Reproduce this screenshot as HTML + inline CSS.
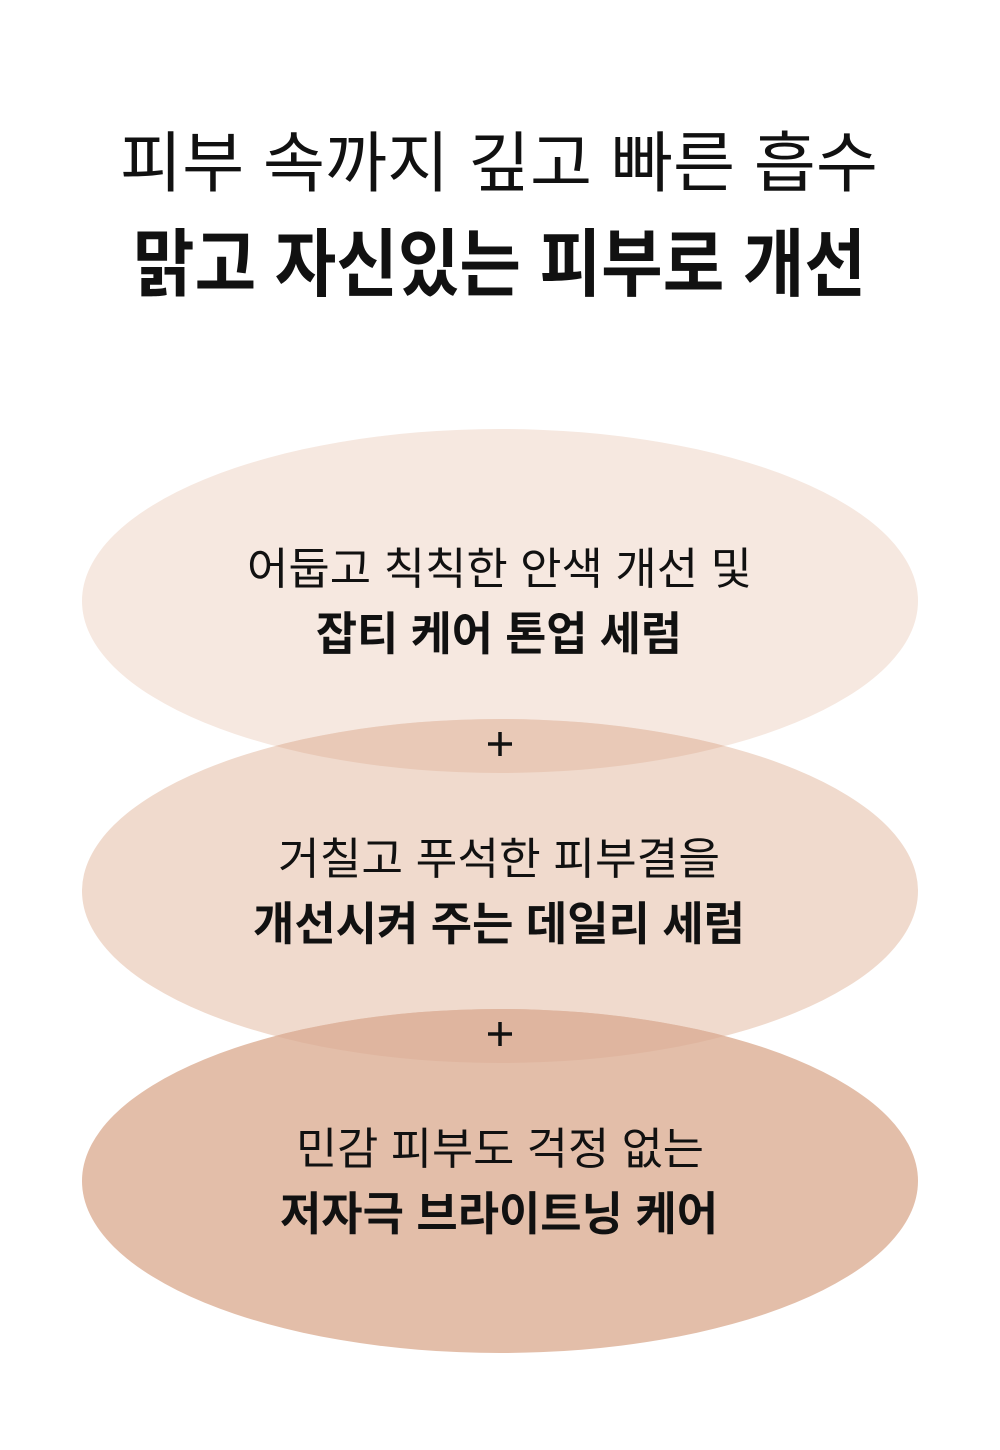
<!DOCTYPE html>
<html><head><meta charset="utf-8"><style>
html,body{margin:0;padding:0;background:#fff;}
svg{display:block;}
text{font-family:"Liberation Sans","Noto Sans CJK KR",sans-serif;fill:#111;}
.r{font-weight:400;}
.b{font-weight:700;}
</style></head><body>
<svg width="1000" height="1450" viewBox="0 0 1000 1450" xmlns="http://www.w3.org/2000/svg">
<defs>
<clipPath id="c1"><ellipse cx="500" cy="601" rx="418" ry="172"/></clipPath>
<clipPath id="c2"><ellipse cx="500" cy="891" rx="418" ry="172"/></clipPath>
</defs>
<rect width="1000" height="1450" fill="#fff"/>
<text class="r" x="120" y="186" font-size="66" textLength="758" lengthAdjust="spacingAndGlyphs">피부 속까지 깊고 빠른 흡수</text>
<text class="b" x="133" y="290" font-size="74" textLength="733" lengthAdjust="spacingAndGlyphs">맑고 자신있는 피부로 개선</text>

<ellipse cx="500" cy="601" rx="418" ry="172" fill="#f6e8e0"/>
<ellipse cx="500" cy="891" rx="418" ry="172" fill="#f0dacd"/>
<ellipse cx="500" cy="891" rx="418" ry="172" fill="#e9c9b7" clip-path="url(#c1)"/>
<ellipse cx="500" cy="1181" rx="418" ry="172" fill="#e3bea9"/>
<ellipse cx="500" cy="1181" rx="418" ry="172" fill="#dfb59f" clip-path="url(#c2)"/>

<text class="r" x="247" y="584" font-size="44" textLength="505" lengthAdjust="spacingAndGlyphs">어둡고 칙칙한 안색 개선 및</text>
<text class="b" x="316" y="650" font-size="46" textLength="366" lengthAdjust="spacingAndGlyphs">잡티 케어 톤업 세럼</text>

<path d="M488 744 H512 M500 732 V756" stroke="#111" stroke-width="3.5"/>

<text class="r" x="278" y="874" font-size="44" textLength="442" lengthAdjust="spacingAndGlyphs">거칠고 푸석한 피부결을</text>
<text class="b" x="253" y="940" font-size="46" textLength="492" lengthAdjust="spacingAndGlyphs">개선시켜 주는 데일리 세럼</text>

<path d="M488 1034 H512 M500 1022 V1046" stroke="#111" stroke-width="3.5"/>

<text class="r" x="296" y="1164" font-size="44" textLength="408" lengthAdjust="spacingAndGlyphs">민감 피부도 걱정 없는</text>
<text class="b" x="280" y="1230" font-size="46" textLength="438" lengthAdjust="spacingAndGlyphs">저자극 브라이트닝 케어</text>
</svg>
</body></html>
